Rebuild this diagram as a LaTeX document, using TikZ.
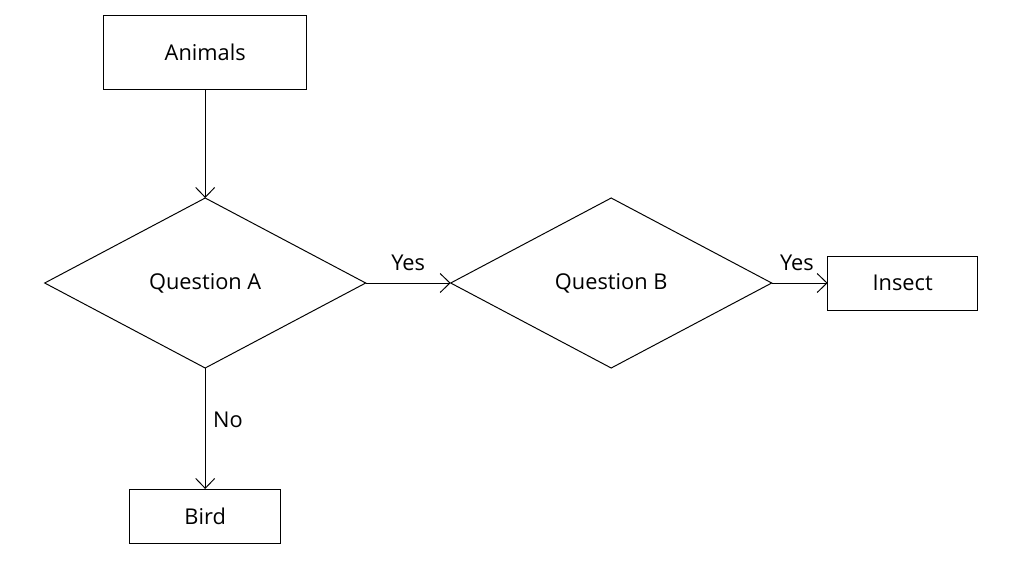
\documentclass[tikz,border=0pt]{standalone}
\usepackage{fontspec}
\setmainfont{Open Sans}
\usepackage{tikz}
\usetikzlibrary{positioning}
\usetikzlibrary{arrows.meta}
\usetikzlibrary{shapes.geometric}

\begin{document}
\begin{tikzpicture}[box/.style={rectangle,draw=black,line width=0.7pt,inner sep=0pt,outer sep=0pt,
	minimum width=3.775cm,minimum height=1.35cm,align=center},
	quest/.style={diamond,draw=black,line width=0.7pt,inner sep=0pt,outer sep=0pt,
	minimum width=8.025cm,minimum height=4.25cm,align=center},
	link/.style={-{Straight Barb[length=7pt,width=13.5pt]},line width=0.7pt},
	font=\fontsize{15.5}{18}\selectfont]
	\useasboundingbox (0,0) rectangle (25.4,-14.275);
	\node[box,minimum width=5.075cm,minimum height=1.85cm] (animals) at (5.13,-1.3) {Animals};
	\node[quest] (qa) [below=2.725cm of animals] {Question A};
	\node[quest] (qb) [right=2.125cm of qa] {Question B};
	\node[box,minimum width=3.75cm] (insect) [right=1.4cm of qb] {Insect};
	\node[box] (bird) [below=3.025cm of qa] {Bird};

	\draw[link] (animals) -- (qa);
	\draw[link] (qa) -- node[above=5pt] {Yes} (qb);
	\draw[link] (qb) -- node[above=5pt,pos=0.45] {Yes} (insect);
	\draw[link] (qa) -- node[right=2pt,pos=0.43] {No} (bird);
  \end{tikzpicture}
\end{document}
